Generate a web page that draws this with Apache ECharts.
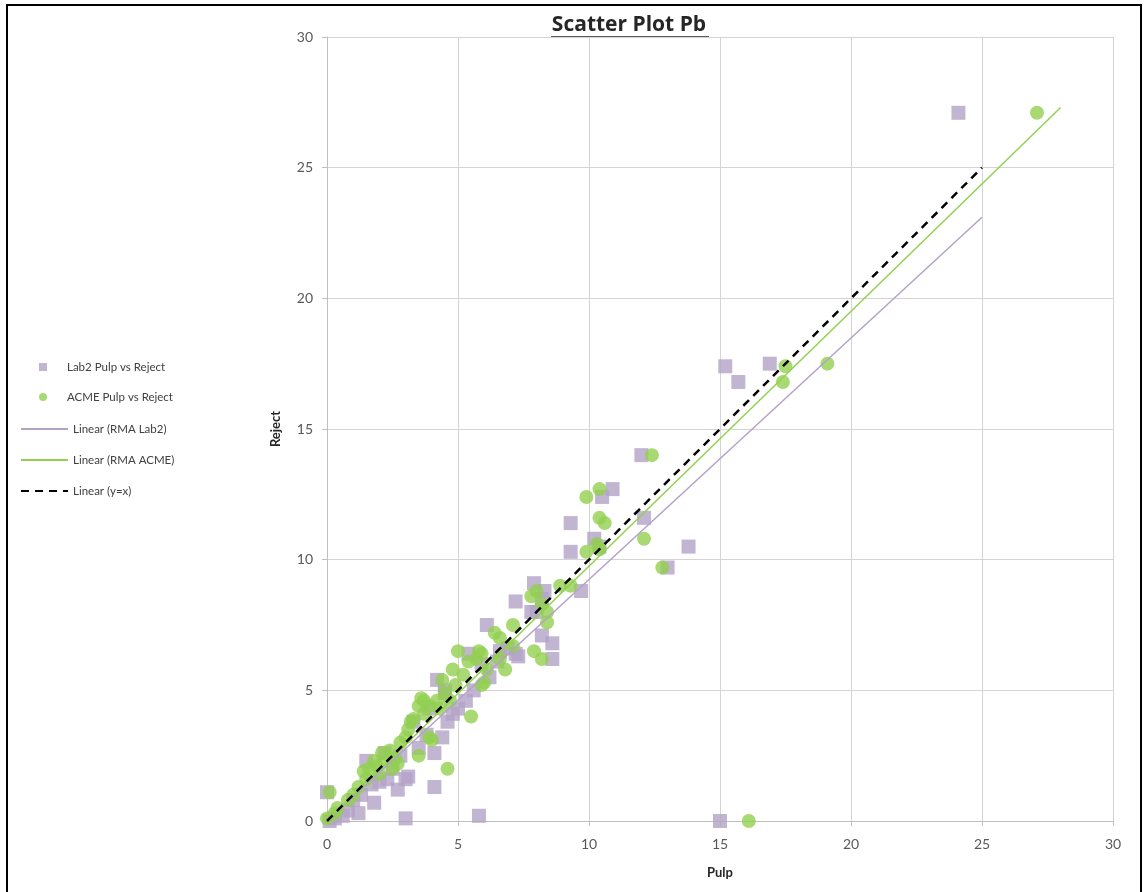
<!DOCTYPE html>
<html>
<head>
<meta charset="utf-8">
<title>Scatter Plot Pb</title>
<script src="https://cdn.jsdelivr.net/npm/echarts@6/dist/echarts.min.js"></script>
<style>
  html, body { margin: 0; padding: 0; background: #ffffff; }
  #chart { width: 1144px; height: 892px; }
</style>
</head>
<body>
<div id="chart"></div>
<script>
// Pb assays: pulp vs reject duplicates, two labs
const lab2Points = [
  [24.1, 27.1], [15.2, 17.4], [15.7, 16.8], [16.9, 17.5], [12.0, 14.0],
  [12.1, 11.6], [13.8, 10.5], [13.0, 9.7], [10.9, 12.7], [10.5, 12.4],
  [9.3, 11.4], [9.3, 10.3], [10.2, 10.8], [9.7, 8.8], [7.9, 9.1],
  [8.3, 8.8], [8.2, 8.5], [7.2, 8.4], [7.8, 8.0], [8.0, 8.0],
  [8.2, 7.1], [8.6, 6.8], [8.6, 6.2], [7.3, 6.3], [7.2, 6.4],
  [6.1, 7.5], [5.4, 6.4], [6.5, 6.1], [5.3, 4.6], [5.0, 4.3],
  [4.2, 5.4], [4.8, 4.1], [5.8, 0.2], [15.0, 0.0], [3.0, 0.1],
  [4.1, 1.3], [3.0, 1.6], [1.8, 0.7], [0.0, 1.1], [4.4, 3.2],
  [4.1, 2.6], [1.5, 2.3], [2.3, 1.6], [3.1, 1.7], [1.2, 0.3],
  [0.6, 0.2], [1.3, 1.0], [2.7, 1.2], [0.3, 0.1], [0.1, 0.0],
  [0.8, 0.4], [2.0, 1.5], [2.5, 2.0], [3.5, 2.8], [3.8, 3.3],
  [4.6, 3.8], [5.6, 5.0], [6.2, 5.5], [2.2, 2.6], [1.0, 0.8],
  [6.6, 6.5], [4.5, 4.9], [3.3, 3.8], [5.9, 6.0], [6.9, 6.6],
  [10.4, 10.5], [4.5, 5.0], [2.8, 2.5], [1.7, 1.4], [3.9, 4.3]
];

const acmePoints = [
  [27.1, 27.1], [19.1, 17.5], [17.4, 16.8], [17.5, 17.4], [16.1, 0.0],
  [12.4, 14.0], [12.1, 10.8], [12.8, 9.7], [9.9, 12.4], [10.4, 12.7],
  [10.4, 11.6], [10.6, 11.4], [9.9, 10.3], [10.3, 10.6], [10.4, 10.4],
  [8.9, 9.0], [9.3, 9.0], [8.0, 8.8], [7.8, 8.6], [8.2, 8.3],
  [8.4, 8.0], [8.4, 7.6], [7.1, 7.5], [6.6, 7.0], [7.1, 6.7],
  [7.9, 6.5], [8.2, 6.2], [6.8, 5.8], [6.4, 7.2], [6.6, 6.2],
  [5.0, 6.5], [5.8, 6.5], [5.9, 6.4], [5.7, 6.2], [6.1, 5.8],
  [4.8, 5.8], [4.4, 5.4], [6.0, 5.3], [5.5, 4.0], [3.6, 4.7],
  [3.9, 4.4], [3.7, 4.1], [3.2, 3.8], [4.6, 2.0], [3.5, 2.5],
  [4.0, 3.1], [0.1, 1.1], [0.0, 0.1], [0.8, 0.8], [1.2, 1.3],
  [1.5, 1.6], [1.9, 2.1], [2.1, 2.6], [2.4, 2.7], [2.5, 2.0],
  [2.8, 3.0], [3.1, 3.5], [3.3, 3.9], [3.5, 4.4], [3.7, 4.6],
  [3.9, 3.2], [1.8, 2.3], [1.4, 1.9], [0.4, 0.5], [0.3, 0.3],
  [1.0, 1.0], [2.2, 2.3], [2.6, 2.4], [4.2, 4.6], [4.5, 4.9],
  [4.9, 5.2], [5.2, 5.6], [4.3, 4.3], [4.7, 4.6], [5.9, 5.2],
  [2.0, 1.8], [2.7, 2.2], [3.0, 3.2], [1.6, 2.0], [5.4, 6.1]
];

// Reduced-major-axis fit lines and the 1:1 reference
const rmaLab2Line = [[0, 0], [25, 23.1]];
const rmaAcmeLine = [[0, 0], [28, 27.3]];
const identityLine = [[0, 0], [25, 25]];

const axisTicks = [0, 5, 10, 15, 20, 25, 30];

const seriesNames = [
  'Lab2 Pulp vs Reject',
  'ACME Pulp vs Reject',
  'Linear (RMA Lab2)',
  'Linear (RMA ACME)',
  'Linear (y=x)'
];

const PURPLE = '#b3a2c7';
const GREEN = '#92d050';
const FONT = 'Lato, "Liberation Sans", sans-serif';

const chart = echarts.init(document.getElementById('chart'), null, { renderer: 'canvas' });

const axisCommon = {
  type: 'value',
  min: axisTicks[0],
  max: axisTicks[axisTicks.length - 1],
  interval: axisTicks[1] - axisTicks[0],
  nameLocation: 'middle',
  nameTextStyle: { fontFamily: FONT, fontWeight: 'bold', fontSize: 13, color: '#262626' },
  axisLine: { show: true, lineStyle: { color: '#bfbfbf', width: 1 } },
  axisTick: { show: true, inside: false, length: 5, lineStyle: { color: '#bfbfbf' } },
  splitLine: { show: true, lineStyle: { color: '#d4d4d4', width: 1 } },
  axisLabel: { fontFamily: FONT, fontSize: 14, color: '#595959' }
};

const legendText = { fontFamily: FONT, fontSize: 11.5, color: '#404040' };

chart.setOption({
  backgroundColor: '#ffffff',
  animation: false,
  title: {
    text: 'Scatter Plot Pb',
    left: 624,
    top: 10,
    textAlign: 'center',
    textStyle: { fontFamily: '"Open Sans", Lato, sans-serif', fontWeight: 'bold', fontSize: 21, color: '#262626' }
  },
  legend: [
    {
      data: seriesNames.slice(0, 2),
      orient: 'vertical',
      left: 34,
      top: 356,
      itemWidth: 8,
      itemHeight: 8,
      itemGap: 18,
      textStyle: Object.assign({}, legendText, { padding: [0, 0, 0, 15] })
    },
    {
      data: seriesNames.slice(2),
      orient: 'vertical',
      left: 15,
      top: 418,
      itemWidth: 47,
      itemHeight: 8,
      itemGap: 19,
      itemStyle: { opacity: 0 },
      textStyle: legendText
    }
  ],
  grid: { left: 327, right: 31, top: 37, bottom: 71, containLabel: false },
  xAxis: Object.assign({}, axisCommon, { name: 'Pulp', nameGap: 45,
    axisLabel: Object.assign({}, axisCommon.axisLabel, { margin: 16 }) }),
  yAxis: Object.assign({}, axisCommon, { name: 'Reject', nameGap: 45,
    axisLabel: Object.assign({}, axisCommon.axisLabel, { margin: 14 }) }),
  series: [
    {
      name: seriesNames[0],
      type: 'scatter',
      symbol: 'rect',
      symbolSize: 14,
      itemStyle: { color: PURPLE },
      data: lab2Points,
      z: 2
    },
    {
      name: seriesNames[1],
      type: 'scatter',
      symbol: 'circle',
      symbolSize: 14,
      itemStyle: { color: GREEN },
      data: acmePoints,
      z: 3
    },
    {
      name: seriesNames[2],
      type: 'line',
      symbol: 'none',
      lineStyle: { color: PURPLE, width: 1.5 },
      itemStyle: { color: PURPLE },
      data: rmaLab2Line,
      z: 4
    },
    {
      name: seriesNames[3],
      type: 'line',
      symbol: 'none',
      lineStyle: { color: GREEN, width: 1.5 },
      itemStyle: { color: GREEN },
      data: rmaAcmeLine,
      z: 5
    },
    {
      name: seriesNames[4],
      type: 'line',
      symbol: 'none',
      lineStyle: { color: '#000000', width: 2.5, type: [8, 6] },
      itemStyle: { color: '#000000' },
      data: identityLine,
      z: 6
    }
  ],
  graphic: [
    {
      type: 'rect',
      shape: { x: 7, y: 5, width: 1134, height: 900 },
      style: { fill: 'none', stroke: '#000000', lineWidth: 2 },
      silent: true
    },
    {
      type: 'line',
      shape: { x1: 551, y1: 37, x2: 709, y2: 37 },
      style: { stroke: '#262626', lineWidth: 1.5 },
      silent: true
    }
  ]
});
</script>
</body>
</html>
